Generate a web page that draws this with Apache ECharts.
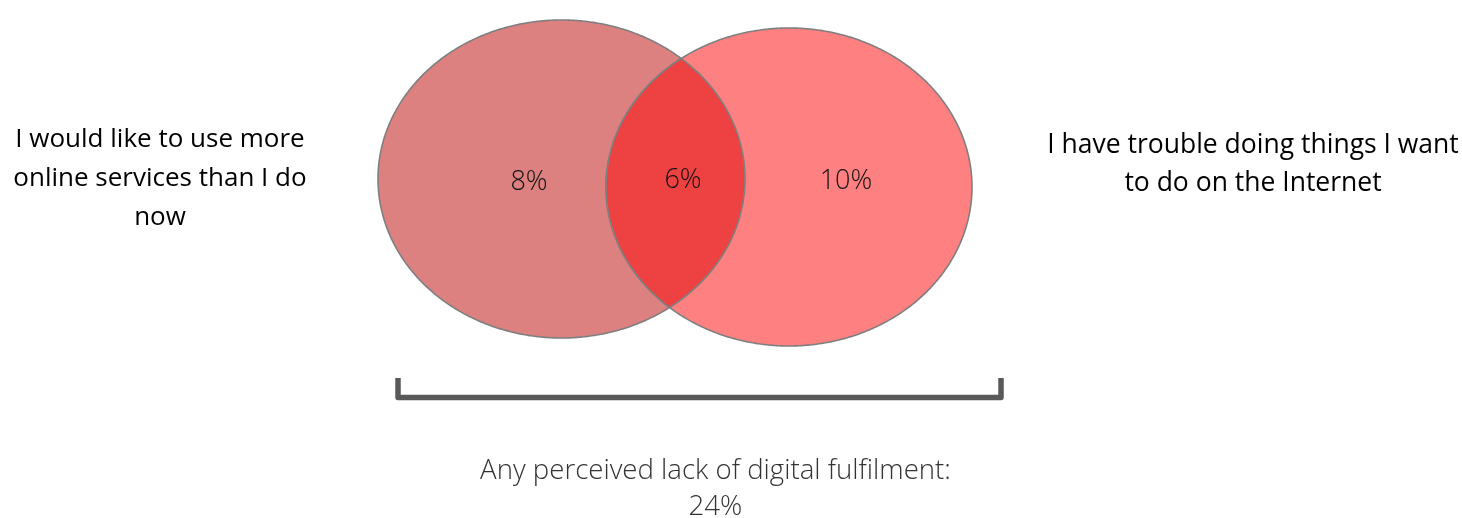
<!DOCTYPE html>
<html>
<head>
<meta charset="utf-8">
<script src="https://cdn.jsdelivr.net/npm/echarts@6/dist/echarts.min.js"></script>
<style>
  html, body { margin: 0; padding: 0; background: #ffffff; }
  #chart { width: 1462px; height: 518px; }
</style>
</head>
<body>
<div id="chart"></div>
<script>
// ---------------- data ----------------
const setNames = [
  'I would like to use more\nonline services than I do\nnow',
  'I have trouble doing things I want\nto do on the Internet'
];
const regionNames = ['Only left', 'Only right', 'Both'];
const regionValues = [8, 10, 6];          // percent
const totalCaption = 'Any perceived lack of digital fulfilment:';
const totalValue = 24;                    // percent

// ---------------- layout (pixel-like axis units) ----------------
const ELL = [
  { cx: 561.5, cy: 179, rx: 183.5, ry: 159 },   // left set
  { cx: 789, cy: 187, rx: 183, ry: 159 }        // right set
];
const LABEL_POS = [[529, 182], [846, 181], [683, 180]];
const FILLS = ['#dc8080', '#ff8080', '#ee4141'];
const STROKE = '#7f7f7f';
const FONT = '"Open Sans", "Noto Sans", sans-serif';

function ellipsePts(api, e, t0, t1, filter) {
  const pts = [];
  const N = 720;
  for (let i = 0; i <= N; i++) {
    const t = t0 + (t1 - t0) * i / N;
    const x = e.cx + e.rx * Math.cos(t);
    const y = e.cy + e.ry * Math.sin(t);
    if (!filter || filter(x, y)) pts.push(api.coord([x, y]));
  }
  return pts;
}
function inside(e) {
  return (x, y) => ((x - e.cx) / e.rx) ** 2 + ((y - e.cy) / e.ry) ** 2 <= 1;
}

function renderItem(params, api) {
  const idx = params.dataIndex;
  let points;
  if (idx === 0) {
    points = ellipsePts(api, ELL[0], 0, Math.PI * 2);
  } else if (idx === 1) {
    points = ellipsePts(api, ELL[1], 0, Math.PI * 2);
  } else {
    const a = ellipsePts(api, ELL[0], -Math.PI, Math.PI, inside(ELL[1]));
    const b = ellipsePts(api, ELL[1], 0, Math.PI * 2, inside(ELL[0]));
    points = a.concat(b);
  }
  const lp = api.coord(LABEL_POS[idx]);
  return {
    type: 'group',
    children: [
      {
        type: 'polygon',
        shape: { points: points },
        style: { fill: FILLS[idx], stroke: STROKE, lineWidth: 1.6 }
      },
      {
        type: 'text',
        style: {
          x: lp[0], y: lp[1],
          text: api.value(1) + '%',
          align: 'center', verticalAlign: 'middle',
          font: '300 27px ' + FONT,
          fill: '#111111'
        }
      }
    ]
  };
}

const chart = echarts.init(document.getElementById('chart'), null, { renderer: 'canvas' });
chart.setOption({
  animation: false,
  grid: { left: 0, right: 0, top: 0, bottom: 0 },
  xAxis: { type: 'value', min: 0, max: 1462, show: false },
  yAxis: { type: 'value', min: 0, max: 518, inverse: true, show: false },
  series: [{
    type: 'custom',
    renderItem: renderItem,
    data: regionValues.map((v, i) => [i, v, regionNames[i]]),
    encode: { x: -1, y: -1 },
    clip: false
  }],
  graphic: [
    {
      type: 'text', x: 160, y: 179,
      style: {
        text: setNames[0], align: 'center', verticalAlign: 'middle',
        font: '26px ' + FONT, lineHeight: 39, fill: '#000000'
      }
    },
    {
      type: 'text', x: 1253, y: 164,
      style: {
        text: setNames[1], align: 'center', verticalAlign: 'middle',
        font: '26.5px ' + FONT, lineHeight: 38, fill: '#000000'
      }
    },
    {
      type: 'polyline',
      shape: { points: [[398, 378], [398, 397.5], [1001, 397.5], [1001, 378]] },
      style: { stroke: '#595959', lineWidth: 5.5, lineJoin: 'round', fill: null }
    },
    {
      type: 'text', x: 715.5, y: 489,
      style: {
        text: totalCaption + '\n' + totalValue + '%', align: 'center', verticalAlign: 'middle',
        font: '300 27.6px ' + FONT, lineHeight: 36, fill: '#333333'
      }
    }
  ]
});
</script>
</body>
</html>
